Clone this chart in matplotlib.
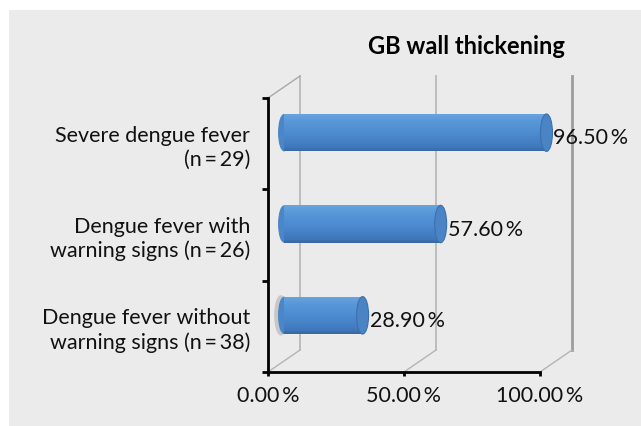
"""GB wall thickening - pseudo 3D cylinder bar chart."""
import matplotlib
matplotlib.use("Agg")
import matplotlib.pyplot as plt
import matplotlib.transforms as mtransforms
from matplotlib.patches import Ellipse, Rectangle
from matplotlib.colors import to_rgb
import numpy as np

# ── Data ───────────────────────────────────────────────────────────────────────
categories = [
    "Dengue fever without\nwarning signs (n\u2009=\u200938)",
    "Dengue fever with\nwarning signs (n\u2009=\u200926)",
    "Severe dengue fever\n(n\u2009=\u200929)",
]
values = [28.9, 57.6, 96.5]
xticks = [0, 50, 100]
xticklabels = ["0.00\u2009%", "50.00\u2009%", "100.00\u2009%"]
title = "GB wall thickening"

plt.rcParams["font.family"] = ["Lato", "DejaVu Sans"]
FS = 15.5

W, H = 641, 426
fig = plt.figure(figsize=(W / 100, H / 100), dpi=100)
fig.patch.set_facecolor("white")
fig.add_artist(Rectangle((9 / W, 0), 1 - 9 / W, (H - 10) / H,
                         transform=fig.transFigure, facecolor="#ebebeb",
                         edgecolor="none", zorder=-10))

# front plane of the chart, in pixels
x0, x1 = 268, 540
ytop, ybot = 98, 372
ax = fig.add_axes([x0 / W, (H - ybot) / H, (x1 - x0) / W, (ybot - ytop) / H])
ax.set_facecolor("none")
ax.set_xlim(0, 100)
ax.set_ylim(-0.5, len(categories) - 0.5)

# depth offsets (back wall / middle of depth)
back = mtransforms.ScaledTranslation(0.32, 0.22, fig.dpi_scale_trans)
mid = mtransforms.ScaledTranslation(0.16, 0.11, fig.dpi_scale_trans)
t_back = ax.transData + back
t_mid = ax.transData + mid

# ── back wall gridlines + floor diagonals ──────────────────────────────────────
ylo, yhi = -0.5, len(categories) - 0.5
inv = ax.transData.inverted()
for xt in xticks:
    strong = xt == xticks[-1]
    ax.plot([xt, xt], [ylo, yhi], transform=t_back,
            color="#9d9d9d" if strong else "#b4b4b4",
            lw=2.0 if strong else 1.2, zorder=1, clip_on=False)
    bx, by = inv.transform(t_back.transform((xt, ylo)))
    ax.plot([xt, bx], [ylo, by], color="#b4b4b4", lw=1.0, zorder=1, clip_on=False)
bx, by = inv.transform(t_back.transform((xticks[0], yhi)))
ax.plot([xticks[0], bx], [yhi, by], color="#a8a8a8", lw=1.0, zorder=1, clip_on=False)

# ── cylinders ──────────────────────────────────────────────────────────────────
bar_h = 0.41
cap_w = 4.4
stops = [(0.0, "#36679f"), (0.12, "#3f78bb"), (0.45, "#4c89cf"),
         (0.8, "#5797d8"), (1.0, "#68a3de")]

def shade(t):
    for (ta, ca), (tb, cb) in zip(stops[:-1], stops[1:]):
        if ta <= t <= tb:
            f = (t - ta) / (tb - ta)
            a, b = np.array(to_rgb(ca)), np.array(to_rgb(cb))
            return tuple(a + (b - a) * f)
    return to_rgb(stops[-1][1])

n_strips = 24
for i, v in enumerate(values):
    # soft shadow at start of the shortest bar
    if i == 0:
        ax.add_patch(Ellipse((-1.2, i), cap_w * 1.1, bar_h * 1.08,
                             transform=t_mid, facecolor="#b9b9b9",
                             edgecolor="none", alpha=0.7, zorder=2, clip_on=False))
    ax.add_patch(Ellipse((0, i), cap_w, bar_h, transform=t_mid,
                         facecolor="#4a86c8", edgecolor="none", zorder=3, clip_on=False))
    for k in range(n_strips):
        yk = i - bar_h / 2 + k * bar_h / n_strips
        ax.barh(yk, v, height=bar_h / n_strips * 1.05, left=0, align="edge",
                color=shade((k + 0.5) / n_strips), transform=t_mid,
                zorder=4, clip_on=False, linewidth=0)
    ax.add_patch(Ellipse((v, i), cap_w, bar_h, transform=t_mid,
                         facecolor="#4b84c5", edgecolor="#3d6fab", lw=0.8,
                         zorder=5, clip_on=False))
    ax.annotate(f"{v:.2f}\u2009%", xy=(v, i), xycoords=t_mid,
                xytext=(5, -4), textcoords="offset points",
                ha="left", va="center", fontsize=FS, color="#111111", zorder=6)

# ── axes styling ───────────────────────────────────────────────────────────────
for s in ("top", "right"):
    ax.spines[s].set_visible(False)
for s in ("left", "bottom"):
    ax.spines[s].set_linewidth(2)
    ax.spines[s].set_color("black")
    ax.spines[s].set_zorder(7)

ax.set_xticks(xticks)
ax.set_xticklabels(xticklabels, fontsize=FS, color="#111111")
ax.tick_params(axis="x", direction="out", length=3, width=2, pad=7)
ax.set_yticks(range(len(categories)))
ax.set_yticklabels(categories, fontsize=FS, color="#111111", linespacing=1.25)
ax.tick_params(axis="y", which="major", length=0, pad=13)
ax.set_yticks(np.arange(-0.5, len(categories), 1.0), minor=True)
ax.tick_params(axis="y", which="minor", direction="out", length=4, width=2)

fig.text(466 / W, 1 - 47 / H, title, ha="center", va="center",
         fontsize=17, fontweight="bold", color="black")

fig.savefig("out.png", dpi=100, facecolor=fig.get_facecolor())
